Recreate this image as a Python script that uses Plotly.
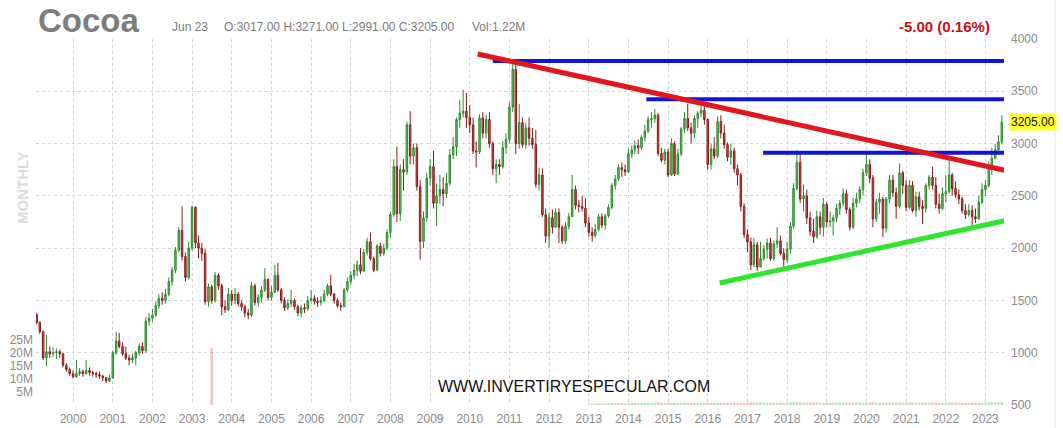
import plotly.graph_objects as go
import pandas as pd

# ---------------- data ----------------
start_month = "1999-02-01"
first_open = 1360

close = [
    1290, 1200, 950, 1010, 990, 1000, 1010, 990, 880, 840, 800,                    # 1999 Feb-Dec
    770, 800, 820, 800, 830, 810, 800, 790, 775, 760, 730, 760,                     # 2000
    1000, 1110, 1060, 990, 950, 930, 950, 1000, 1060, 1020, 1300, 1330,             # 2001
    1360, 1450, 1520, 1500, 1560, 1680, 1790, 1980, 2170, 1920, 1720, 2000,         # 2002
    2390, 2050, 2000, 1950, 1490, 1630, 1500, 1740, 1640, 1440, 1410, 1560,         # 2003
    1500, 1560, 1470, 1440, 1380, 1360, 1640, 1480, 1530, 1600, 1700, 1530,         # 2004
    1580, 1740, 1600, 1500, 1430, 1470, 1500, 1440, 1380, 1430, 1420, 1500,         # 2005
    1520, 1490, 1480, 1500, 1560, 1640, 1560, 1500, 1450, 1440, 1600, 1680,         # 2006
    1740, 1790, 1840, 1780, 1960, 2060, 1900, 1790, 2020, 1950, 2000, 2150,         # 2007
    2320, 2780, 2330, 2750, 2730, 3180, 2880, 2960, 2590, 2065, 2290, 2670,         # 2008
    2780, 2430, 2500, 2560, 2520, 2620, 2890, 2970, 3230, 3290, 3310, 3250,         # 2009
    3180, 2930, 2920, 3245, 3100, 3230, 3000, 2760, 2800, 2780, 2960, 3040,         # 2010
    3350, 3710, 3000, 3200, 2990, 3150, 3050, 2990, 2610, 2700, 2320, 2115,         # 2011
    2290, 2200, 2340, 2200, 2070, 2210, 2300, 2560, 2410, 2400, 2380, 2240,         # 2012
    2150, 2120, 2180, 2300, 2220, 2310, 2390, 2600, 2660, 2770, 2750, 2730,         # 2013
    2900, 2940, 2980, 2960, 3060, 3120, 3230, 3240, 3270, 2905, 2840, 2920,         # 2014
    2700, 3000, 2710, 2900, 3140, 3240, 3150, 3100, 3240, 3290, 3320, 3230,         # 2015
    2800, 2950, 2880, 3210, 3100, 2990, 2870, 2930, 2760, 2700, 2400, 2130,         # 2016
    2060, 1840, 2030, 1820, 1900, 1990, 2050, 1900, 2040, 2070, 1950, 1890,         # 2017
    1990, 2210, 2570, 2820, 2470, 2500, 2290, 2160, 2110, 2300, 2200, 2420,         # 2018
    2250, 2260, 2290, 2380, 2430, 2520, 2370, 2200, 2430, 2470, 2560, 2720,         # 2019
    2800, 2670, 2280, 2440, 2470, 2190, 2470, 2650, 2530, 2400, 2720, 2600,         # 2020
    2390, 2600, 2360, 2490, 2400, 2380, 2600, 2680, 2600, 2420, 2380, 2520,         # 2021
    2540, 2700, 2570, 2510, 2470, 2360, 2320, 2360, 2300, 2280, 2440, 2560,         # 2022
    2600, 2780, 2860, 2940, 3017, 3205,                                             # 2023 Jan-Jun
]
high = [
    1380, 1300, 1210, 1170, 1060, 1050, 1040, 1030, 1000, 900, 860,
    830, 930, 850, 840, 930, 860, 830, 820, 820, 790, 770, 790,
    1020, 1200, 1190, 1100, 1060, 980, 990, 1020, 1090, 1100, 1340, 1380,
    1420, 1490, 1560, 1580, 1610, 1720, 1820, 2010, 2200, 2400, 1960, 2060,
    2410, 2400, 2120, 2050, 1990, 1660, 1650, 1770, 1760, 1660, 1500, 1620,
    1600, 1620, 1580, 1500, 1460, 1420, 1680, 1660, 1560, 1640, 1810, 1710,
    1640, 1840, 1860, 1620, 1530, 1510, 1600, 1520, 1460, 1460, 1470, 1540,
    1600, 1550, 1530, 1540, 1600, 1660, 1745, 1570, 1520, 1480, 1620, 1720,
    1780, 1850, 1880, 2000, 1990, 2100, 2150, 1920, 2040, 2050, 2040, 2180,
    2350, 2850, 2970, 2800, 2850, 3210, 3310, 3000, 3000, 2650, 2350, 2720,
    2850, 2930, 2620, 2700, 2680, 2720, 2950, 3060, 3250, 3420, 3515, 3485,
    3370, 3250, 3020, 3280, 3300, 3270, 3300, 3020, 2850, 2850, 3020, 3100,
    3400, 3775, 3790, 3380, 3250, 3200, 3250, 3150, 3130, 2770, 2760, 2380,
    2340, 2370, 2380, 2380, 2220, 2250, 2340, 2700, 2600, 2460, 2500, 2480,
    2300, 2200, 2230, 2330, 2330, 2330, 2420, 2620, 2700, 2800, 2820, 2800,
    2950, 2980, 3030, 3040, 3080, 3180, 3260, 3300, 3330, 3290, 2960, 2950,
    2950, 3050, 3020, 2950, 3160, 3300, 3380, 3200, 3270, 3310, 3400, 3400,
    3240, 3000, 3060, 3260, 3270, 3180, 3010, 3000, 2960, 2800, 2720, 2430,
    2180, 2100, 2100, 2060, 2060, 2030, 2090, 2100, 2070, 2200, 2120, 2000,
    2060, 2250, 2620, 2935, 2900, 2610, 2560, 2350, 2280, 2360, 2350, 2480,
    2440, 2350, 2320, 2420, 2460, 2570, 2560, 2390, 2480, 2530, 2590, 2760,
    2905, 2850, 2700, 2470, 2530, 2490, 2490, 2700, 2700, 2580, 2810, 2740,
    2650, 2650, 2640, 2540, 2540, 2460, 2620, 2700, 2780, 2680, 2520, 2580,
    2700, 2840, 2720, 2640, 2560, 2490, 2420, 2420, 2410, 2380, 2500, 2620,
    2650, 2830, 2960, 3000, 3080, 3271,
]
low = [
    1270, 1180, 930, 870, 950, 960, 940, 950, 860, 820, 780,
    755, 760, 780, 770, 790, 780, 770, 760, 750, 730, 710, 720,
    750, 980, 1040, 970, 930, 880, 900, 880, 970, 990, 1000, 1260,
    1290, 1340, 1420, 1460, 1470, 1540, 1640, 1760, 1960, 1880, 1680, 1700,
    1980, 2000, 1900, 1880, 1460, 1440, 1470, 1480, 1600, 1360, 1380, 1400,
    1450, 1460, 1440, 1400, 1340, 1320, 1340, 1450, 1440, 1480, 1580, 1500,
    1500, 1570, 1580, 1470, 1400, 1410, 1440, 1410, 1350, 1340, 1380, 1400,
    1480, 1460, 1440, 1450, 1480, 1540, 1540, 1470, 1430, 1400, 1440, 1580,
    1650, 1700, 1730, 1750, 1770, 1930, 1880, 1770, 1780, 1920, 1930, 1980,
    2100, 2300, 2250, 2260, 2550, 2700, 2800, 2800, 2550, 1890, 2000, 2250,
    2600, 2380, 2210, 2420, 2400, 2480, 2600, 2850, 2880, 3150, 3250, 3150,
    3100, 2900, 2770, 2900, 3050, 3050, 2960, 2700, 2620, 2700, 2760, 2900,
    3000, 3300, 2900, 2950, 2960, 2950, 2980, 2950, 2580, 2550, 2300, 2050,
    2000, 2140, 2200, 2050, 2040, 2040, 2180, 2300, 2370, 2340, 2350, 2200,
    2110, 2060, 2100, 2160, 2190, 2180, 2290, 2370, 2560, 2640, 2680, 2690,
    2720, 2860, 2900, 2900, 2940, 3020, 3100, 3150, 3200, 2880, 2820, 2800,
    2680, 2690, 2690, 2700, 2880, 3100, 3120, 3000, 3050, 3150, 3250, 3180,
    2750, 2750, 2850, 2860, 3050, 2950, 2830, 2800, 2720, 2600, 2350, 2100,
    1960, 1790, 1820, 1780, 1830, 1880, 1900, 1880, 1880, 2000, 1930, 1800,
    1860, 1950, 2190, 2550, 2430, 2350, 2230, 2120, 2050, 2090, 2130, 2110,
    2200, 2200, 2120, 2250, 2320, 2400, 2330, 2170, 2180, 2390, 2430, 2500,
    2690, 2620, 2200, 2250, 2330, 2105, 2150, 2430, 2490, 2280, 2380, 2520,
    2350, 2370, 2340, 2300, 2360, 2230, 2340, 2560, 2560, 2380, 2330, 2360,
    2440, 2520, 2500, 2480, 2420, 2330, 2280, 2300, 2220, 2240, 2270, 2420,
    2500, 2580, 2700, 2850, 2900, 2991,
]

# volume (millions): a spike in Jul 2003, small bars from 2013 on
vol_spike_month = "2003-07-01"
vol_spike_value = 22.0
vol_recent_start = "2013-01-01"
vol_recent = [
    0.6, 0.5, 0.6, 0.7, 0.6, 0.6, 0.7, 0.8, 0.7, 0.8, 0.7, 0.6,
    0.7, 0.8, 0.8, 0.7, 0.8, 0.8, 0.9, 0.8, 0.9, 1.0, 0.8, 0.7,
    0.9, 0.8, 0.9, 0.8, 0.9, 0.9, 0.8, 0.8, 0.9, 0.9, 0.8, 0.7,
    1.0, 0.9, 0.8, 0.9, 0.9, 0.8, 0.8, 0.8, 0.9, 0.9, 0.9, 0.8,
    0.9, 1.0, 0.9, 0.9, 1.0, 0.9, 0.8, 0.9, 0.9, 0.9, 0.9, 0.8,
    0.9, 1.0, 1.1, 1.1, 1.0, 0.9, 0.9, 0.9, 0.9, 1.0, 0.9, 0.8,
    0.9, 0.9, 0.9, 0.9, 1.0, 0.9, 0.9, 0.9, 0.9, 1.0, 0.9, 0.8,
    1.0, 1.0, 1.1, 0.9, 0.9, 0.9, 0.9, 0.9, 0.9, 0.9, 1.0, 0.8,
    0.9, 1.0, 0.9, 0.9, 0.9, 0.9, 0.9, 0.9, 0.9, 0.9, 0.9, 0.8,
    0.9, 1.0, 0.9, 0.9, 0.9, 0.9, 0.8, 0.8, 0.9, 0.9, 0.9, 0.8,
    1.0, 1.1, 1.1, 1.0, 1.1, 1.22,
]

# hand-drawn trend lines: (start date, start price, end date, end price)
red_line = ("2010-03-15", 3857, "2023-12-01", 2709)
blue_lines = [
    ("2010-08-01", 3790, "2023-10-01", 3790),
    ("2014-06-15", 3425, "2023-08-15", 3425),
    ("2017-05-25", 2913, "2023-09-01", 2913),
]
green_line = ("2016-04-20", 1667, "2023-12-01", 2298)

price_ticks = [500, 1000, 1500, 2000, 2500, 3000, 3500, 4000]
vol_ticks = [5, 10, 15, 20, 25]
vol_tick_text = ["5M", "10M", "15M", "20M", "25M"]

# ---------------- build ----------------
dates = pd.date_range(start_month, periods=len(close), freq="MS")
opens = [first_open] + close[:-1]
up = [c >= o for o, c in zip(opens, close)]

vol = {d: 0.0 for d in dates}
vol[pd.Timestamp(vol_spike_month)] = vol_spike_value
for d, v in zip(pd.date_range(vol_recent_start, periods=len(vol_recent), freq="MS"), vol_recent):
    vol[d] = v
vol_vals = [vol[d] * 1e6 for d in dates]
vol_cols = ["rgba(60,180,60,0.35)" if u else "rgba(232,70,70,0.33)" for u in up]

W, H = 1063, 428
L, R, T, B = 36, 59, 39, 23

def px(x):
    return (x - L) / (W - L - R)

def py(y):
    return (H - B - y) / (H - T - B)

FONT = "Arial, 'Liberation Sans', Helvetica, sans-serif"

fig = go.Figure()
fig.add_trace(go.Bar(
    x=dates, y=vol_vals, yaxis="y2", marker=dict(color=vol_cols, line=dict(width=0)),
    width=24 * 86400000, hoverinfo="skip", showlegend=False,
))
fig.add_trace(go.Candlestick(
    x=dates, open=opens, high=high, low=low, close=close,
    increasing=dict(fillcolor="#62c862", line=dict(color="#2b8c2b", width=1)),
    decreasing=dict(fillcolor="#cc5555", line=dict(color="#8c1a1a", width=1)),
    whiskerwidth=0, showlegend=False,
))

shapes = []
def seg(spec, color, width):
    x0, y0, x1, y1 = spec
    shapes.append(dict(type="line", xref="x", yref="y", x0=x0, y0=y0, x1=x1, y1=y1,
                       line=dict(color=color, width=width), layer="above"))

for b in blue_lines:
    seg(b, "#0f14d8", 4)
seg(red_line, "#e3161e", 5)
seg(green_line, "#2ee62e", 5)
shapes.append(dict(type="line", xref="paper", yref="paper", x0=px(1055), x1=px(1055),
                   y0=py(428), y1=py(0), line=dict(color="#e8e8e8", width=1)))

grey = "#8a8a8a"
ann = []
def text(t, x, y, size, color, bold=False, xanchor="left", **kw):
    ann.append(dict(text=f"<b>{t}</b>" if bold else t, x=px(x), y=py(y), xref="paper", yref="paper",
                    xanchor=xanchor, yanchor="middle", showarrow=False,
                    font=dict(family=FONT, size=size, color=color), **kw))

text("Cocoa", 36, 20, 33, "#7d7d7d", bold=True)
text("Jun 23", 170, 27, 12, "#7a7a7a")
text("O:3017.00 H:3271.00 L:2991.00 C:3205.00", 222, 27, 12, "#7a7a7a")
text("Vol:1.22M", 470, 27, 12, "#7a7a7a")
text("-5.00 (0.16%)", 992, 27, 15, "#c0121b", bold=True, xanchor="right")
text("MONTHLY", 22, 188, 15, "#dcdcdc", bold=True, xanchor="center", textangle=-90)
text("WWW.INVERTIRYESPECULAR.COM", 574, 386, 16, "#111111", xanchor="center")
ann.append(dict(text=f"{close[-1]:.2f}", x=px(1009), y=close[-1], xref="paper", yref="y",
                xanchor="left", yanchor="middle", showarrow=False, bgcolor="#ffff2e",
                borderpad=1, font=dict(family=FONT, size=12, color="#111111")))

fig.update_layout(
    width=W, height=H, margin=dict(l=L, r=R, t=T, b=B, autoexpand=False),
    paper_bgcolor="white", plot_bgcolor="white",
    showlegend=False, shapes=shapes, annotations=ann,
    xaxis=dict(
        type="date", range=["1999-01-25", "2023-06-21"], rangeslider=dict(visible=False),
        tick0="2000-01-01", dtick="M12", tickformat="%Y", ticks="",
        showgrid=True, gridcolor="#d6d6d6", griddash="3px,3px", gridwidth=1,
        showline=False, zeroline=False, automargin=False, ticklabelstandoff=5,
        tickfont=dict(family=FONT, size=12, color=grey),
    ),
    yaxis=dict(
        range=[500, 4000], side="right", tickvals=price_ticks, ticks="",
        showgrid=True, gridcolor="#d6d6d6", griddash="3px,3px", gridwidth=1,
        showline=False, zeroline=False, ticklabelstandoff=6, automargin=False,
        tickfont=dict(family=FONT, size=12, color=grey),
    ),
    yaxis2=dict(
        overlaying="y", side="left", range=[0, 140.8e6],
        tickvals=[v * 1e6 for v in vol_ticks], ticktext=vol_tick_text, ticks="",
        showgrid=False, zeroline=False, showline=False, ticklabelstandoff=2, automargin=False,
        tickfont=dict(family=FONT, size=12, color=grey),
    ),
)

fig.write_html("out.html", config={"displayModeBar": False},
               post_script="document.body.style.margin='0px';")
